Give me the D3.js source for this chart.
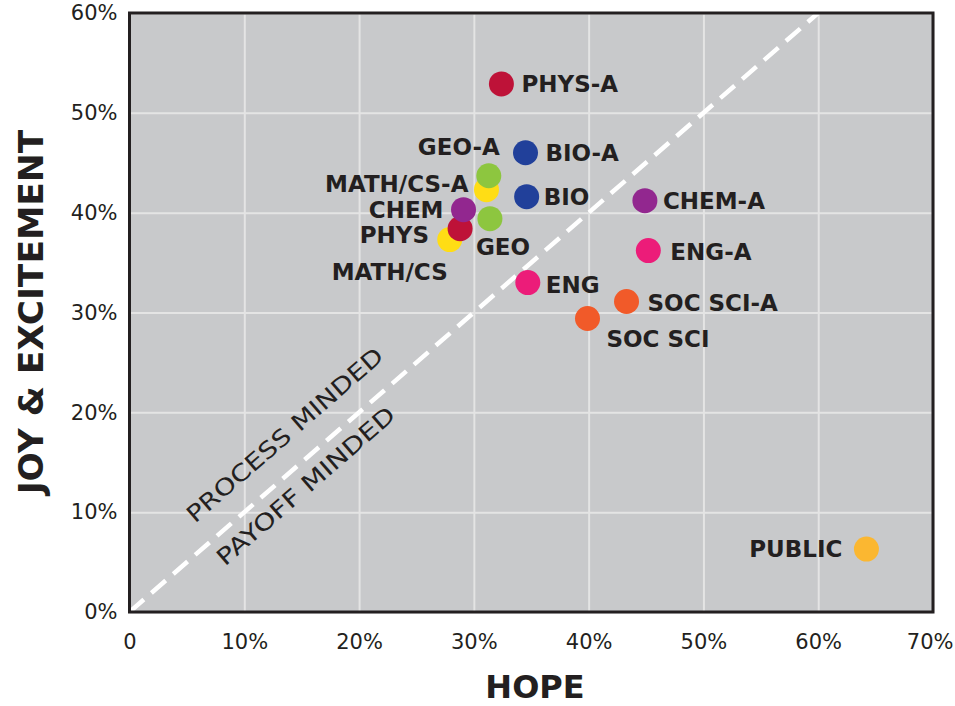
<!DOCTYPE html>
<html>
<head>
<meta charset="utf-8">
<script src="https://cdn.jsdelivr.net/npm/d3@7"></script>
<style>
    body { margin: 0; background: #fff; }
    .tick_text { font-family: 'DejaVu Sans', sans-serif; font-size: 21px; fill: #231f20; }
    .point_label { font-family: 'DejaVu Sans', sans-serif; font-weight: bold; font-size: 23px; fill: #231f20; }
    .axis_title { font-family: 'DejaVu Sans', sans-serif; font-weight: bold; font-size: 32px; fill: #231f20; }
    .zone_label { font-family: 'DejaVu Sans', sans-serif; font-size: 23px; fill: #231f20; }
</style>
</head>
<body>
<svg id="chart" width="955" height="706"></svg>
<script>
// 値 (%)
const names = ['MATH/CS', 'PHYS', 'CHEM', 'MATH/CS-A', 'GEO-A', 'GEO', 'BIO-A', 'BIO',
               'PHYS-A', 'CHEM-A', 'ENG-A', 'ENG', 'SOC SCI-A', 'SOC SCI', 'PUBLIC'];
const hope = [27.9, 28.8, 29.1, 31.1, 31.3, 31.4, 34.5, 34.6,
              32.4, 44.9, 45.2, 34.7, 43.3, 39.9, 64.2];
const joy = [37.3, 38.4, 40.3, 42.3, 43.7, 39.4, 46.0, 41.6,
             52.9, 41.2, 36.2, 33.0, 31.1, 29.4, 6.3];
const groups = ['math', 'phys', 'chem', 'math', 'geo', 'geo', 'bio', 'bio',
                'phys', 'chem', 'eng', 'eng', 'soc', 'soc', 'public'];
const x_ticks = [0, 10, 20, 30, 40, 50, 60, 70];
const y_ticks = [0, 10, 20, 30, 40, 50, 60];

// 色
const colors = {
    math: '#ffdd15', phys: '#be1238', chem: '#92278f', geo: '#8dc63f',
    bio: '#21409a', eng: '#ec1c79', soc: '#f15a29', public: '#fbb731'
};

// ラベル位置 [anchor, dx, dy]
const label_pos = {
    'MATH/CS': ['end', -2, 32], 'PHYS': ['end', -31, 6], 'CHEM': ['end', -20, 0],
    'MATH/CS-A': ['end', -18, -6], 'GEO-A': ['end', 11, -29], 'GEO': ['start', -14, 28],
    'BIO-A': ['start', 20, 0], 'BIO': ['start', 17, 0], 'PHYS-A': ['start', 20, 0],
    'CHEM-A': ['start', 18, 0], 'ENG-A': ['start', 22, 1], 'ENG': ['start', 18, 2],
    'SOC SCI-A': ['start', 21, 1], 'SOC SCI': ['start', 19, 20], 'PUBLIC': ['end', -24, 0]
};

const pos = { LEFT: 129.5, RIGHT: 933, TOP: 13, BOTTOM: 612 };

const svg = d3.select('#chart');
const x = d3.scaleLinear().domain([0, 70]).range([pos.LEFT, pos.RIGHT]);
const y = d3.scaleLinear().domain([0, 60]).range([pos.BOTTOM, pos.TOP]);

// 背景
svg.append('rect')
    .attr('x', pos.LEFT).attr('y', pos.TOP)
    .attr('width', pos.RIGHT - pos.LEFT).attr('height', pos.BOTTOM - pos.TOP)
    .attr('fill', '#c8c9cb');

svg.append('clipPath').attr('id', 'plot_clip')
    .append('rect')
    .attr('x', pos.LEFT).attr('y', pos.TOP)
    .attr('width', pos.RIGHT - pos.LEFT).attr('height', pos.BOTTOM - pos.TOP);

// グリッド
const x_axis = svg.append('g')
    .attr('transform', `translate(0,${pos.BOTTOM})`)
    .call(d3.axisBottom(x).tickValues(x_ticks)
        .tickSize(-(pos.BOTTOM - pos.TOP))
        .tickFormat(d => d == 0 ? '0' : d + '%'));
const y_axis = svg.append('g')
    .attr('transform', `translate(${pos.LEFT},0)`)
    .call(d3.axisLeft(y).tickValues(y_ticks)
        .tickSize(-(pos.RIGHT - pos.LEFT))
        .tickFormat(d => d + '%'));

[x_axis, y_axis].forEach(ax => {
    ax.select('.domain').remove();
    ax.selectAll('line').attr('stroke', '#e4e4e4').attr('stroke-width', 2);
    ax.selectAll('text').attr('class', 'tick_text').attr('font-family', null).attr('font-size', null);
});
x_axis.selectAll('text').attr('y', 22).attr('dy', '0.71em');
// 右端のラベルは画面内に収める
x_axis.selectAll('text').filter(d => d == 70)
    .attr('text-anchor', 'end').attr('x', 953 - x(70));
y_axis.selectAll('text').attr('x', -12);

// 対角線
svg.append('line')
    .attr('clip-path', 'url(#plot_clip)')
    .attr('x1', x(0)).attr('y1', y(0))
    .attr('x2', x(60)).attr('y2', y(60))
    .attr('stroke', '#fff').attr('stroke-width', 4.5)
    .attr('stroke-dasharray', '19,10');

const angle = -Math.atan2(y(0) - y(10), x(10) - x(0)) * 180 / Math.PI;
[['PROCESS MINDED', 13.98, 17.13, 252], ['PAYOFF MINDED', 15.81, 12.02, 228]].forEach(t => {
    svg.append('text')
        .attr('class', 'zone_label')
        .attr('text-anchor', 'middle')
        .attr('transform', `translate(${x(t[1])},${y(t[2])}) rotate(${angle})`)
        .attr('textLength', t[3])
        .attr('lengthAdjust', 'spacingAndGlyphs')
        .text(t[0]);
});

// 枠
svg.append('rect')
    .attr('x', pos.LEFT).attr('y', pos.TOP)
    .attr('width', pos.RIGHT - pos.LEFT).attr('height', pos.BOTTOM - pos.TOP)
    .attr('fill', 'none').attr('stroke', '#231f20').attr('stroke-width', 3);

// 点とラベル
const data = names.map((n, i) => ({ name: n, hope: hope[i], joy: joy[i], group: groups[i] }));

svg.append('g').selectAll('circle')
    .data(data).join('circle')
    .attr('cx', d => x(d.hope))
    .attr('cy', d => y(d.joy))
    .attr('r', 12.5)
    .attr('fill', d => colors[d.group]);

svg.append('g').selectAll('text')
    .data(data).join('text')
    .attr('class', 'point_label')
    .attr('text-anchor', d => label_pos[d.name][0])
    .attr('x', d => x(d.hope) + label_pos[d.name][1])
    .attr('y', d => y(d.joy) + label_pos[d.name][2])
    .attr('dy', '0.36em')
    .text(d => d.name);

// 軸タイトル
svg.append('text')
    .attr('class', 'axis_title')
    .attr('text-anchor', 'middle')
    .attr('x', 535).attr('y', 698)
    .text('HOPE');
svg.append('text')
    .attr('class', 'axis_title')
    .style('font-size', '34.5px')
    .attr('text-anchor', 'middle')
    .attr('transform', 'translate(43,312) rotate(-90)')
    .text('JOY & EXCITEMENT');
</script>
</body>
</html>
